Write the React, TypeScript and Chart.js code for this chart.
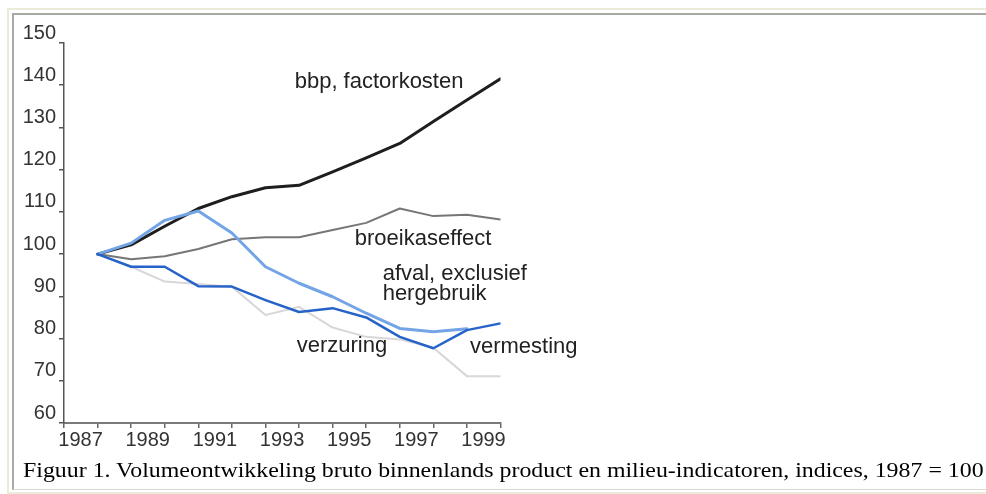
import React, { useEffect, useRef } from 'react';
import { Chart, registerables } from 'chart.js';

Chart.register(...registerables);

// ---- data ----
const years = [1987, 1988, 1989, 1990, 1991, 1992, 1993, 1994, 1995, 1996, 1997, 1998, 1999];
const bbp = [100, 102.2, 106.6, 110.8, 113.6, 115.7, 116.3, 119.5, 122.8, 126.2, 131.4, 136.5, 141.5];
const broeikaseffect = [100, 98.8, 99.5, 101.2, 103.5, 104.0, 104.0, 105.7, 107.4, 110.8, 109.0, 109.3, 108.2];
const afval = [100, 102.6, 108.0, 110.2, 105.0, 97.0, 93.1, 89.9, 86.0, 82.4, 81.6, 82.3, null];
const verzuring = [100, 97.0, 93.5, 92.9, 92.3, 85.6, 87.5, 82.6, 80.4, 79.8, 77.8, 71.1, 71.1];
const vermesting = [100, 97.0, 97.0, 92.4, 92.3, 89.1, 86.3, 87.2, 85.0, 80.4, 77.7, 82.0, 83.6];

const yTicks = [60, 70, 80, 90, 100, 110, 120, 130, 140, 150];

const annotationTexts = ['bbp, factorkosten', 'broeikaseffect', 'afval, exclusief', 'hergebruik', 'verzuring', 'vermesting'];
const annotationYears = [1992.87, 1994.66, 1995.49, 1995.49, 1992.93, 1998.09];
const annotationValues = [139.3, 102.2, 93.9, 89.1, 76.8, 76.6];

const caption = 'Figuur 1. Volumeontwikkeling bruto binnenlands product en milieu-indicatoren, indices, 1987 = 100';

const SANS = '"Liberation Sans", Arial, Helvetica, sans-serif';

const toPoints = (vals: (number | null)[]) => years.map((yr, i) => ({ x: yr, y: vals[i] }));

const labelPlugin = {
  id: 'lineLabels',
  afterDatasetsDraw(chart: any) {
    const { ctx, scales } = chart;
    ctx.save();
    ctx.font = `22px ${SANS}`;
    ctx.fillStyle = '#222222';
    ctx.textAlign = 'left';
    ctx.textBaseline = 'alphabetic';
    annotationTexts.forEach((t, i) => {
      const x = scales.x.getPixelForValue(annotationYears[i]);
      const y = scales.y.getPixelForValue(annotationValues[i]);
      ctx.fillText(t, x, y);
    });
    ctx.restore();
  },
};

function LineChart() {
  const ref = useRef<HTMLCanvasElement | null>(null);
  useEffect(() => {
    if (!ref.current) return;
    const chart = new Chart(ref.current, {
      type: 'line',
      data: {
        datasets: [
          { label: 'vermesting', data: toPoints(vermesting), borderColor: '#2563c9', borderWidth: 2.5 },
          { label: 'afval, exclusief hergebruik', data: toPoints(afval), borderColor: '#72a4e6', borderWidth: 3 },
          { label: 'bbp, factorkosten', data: toPoints(bbp), borderColor: '#1e1e1e', borderWidth: 3 },
          { label: 'broeikaseffect', data: toPoints(broeikaseffect), borderColor: '#767676', borderWidth: 2 },
          { label: 'verzuring', data: toPoints(verzuring), borderColor: '#d9d6da', borderWidth: 2 },
        ].map((d) => ({
          ...d,
          pointRadius: 0,
          pointHoverRadius: 0,
          tension: 0,
          fill: false,
          spanGaps: false,
          borderJoinStyle: 'round' as const,
          borderCapStyle: 'round' as const,
        })),
      },
      options: {
        animation: false,
        responsive: false,
        devicePixelRatio: 1,
        events: [],
        layout: { padding: { left: 0, top: 43, right: 485.5, bottom: 0 } },
        plugins: {
          legend: { display: false },
          tooltip: { enabled: false },
          title: { display: false },
        },
        scales: {
          x: {
            type: 'linear',
            min: 1986,
            max: 1999,
            afterFit: (s: any) => {
              s.height = 71;
            },
            ticks: {
              stepSize: 1,
              autoSkip: false,
              maxRotation: 0,
              padding: 0,
              labelOffset: -17,
              color: '#333333',
              font: { family: SANS, size: 20 },
              callback: (v: any) => (Number(v) % 2 === 1 ? String(v) : ''),
            },
            grid: {
              drawOnChartArea: false,
              drawTicks: true,
              tickLength: 5,
              color: '#666666',
              lineWidth: 1.5,
            },
            border: { display: true, color: '#7a7a7a', width: 2 },
          },
          y: {
            type: 'linear',
            min: 60,
            max: 150,
            afterFit: (s: any) => {
              s.width = 64;
            },
            afterBuildTicks: (s: any) => {
              s.ticks = yTicks.map((v) => ({ value: v }));
            },
            ticks: {
              padding: 3,
              labelOffset: -10,
              color: '#333333',
              font: { family: SANS, size: 20 },
              callback: (v: any) => String(v),
            },
            grid: {
              drawOnChartArea: false,
              drawTicks: true,
              tickLength: 5,
              color: '#555555',
              lineWidth: 1.5,
            },
            border: { display: true, color: '#555555', width: 1.5 },
          },
        },
      },
      plugins: [labelPlugin],
    });
    return () => chart.destroy();
  }, []);
  return (
    <canvas
      ref={ref}
      width={986}
      height={494}
      style={{ position: 'absolute', left: 0, top: 0, width: 986, height: 494 }}
    />
  );
}

export default function App() {
  return (
    <div style={{ position: 'absolute', left: 0, top: 0, width: 986, height: 494, overflow: 'hidden', background: '#ffffff' }}>
      <div
        style={{
          position: 'absolute',
          left: 7,
          top: 8,
          width: 1000,
          height: 482,
          borderTop: '2px solid #ecead9',
          borderLeft: '2px solid #ecead9',
          borderBottom: '2px solid #ecead9',
        }}
      />
      <div
        style={{
          position: 'absolute',
          left: 12,
          top: 13,
          width: 1000,
          height: 474,
          borderTop: '2px solid #a9a9a3',
          borderLeft: '2px solid #a9a9a3',
          borderBottom: '1px solid #dcdcd6',
        }}
      />
      <LineChart />
      <div
        style={{
          position: 'absolute',
          left: 23,
          top: 458,
          whiteSpace: 'nowrap',
          fontFamily: '"Liberation Serif", "Times New Roman", serif',
          fontSize: 22,
          lineHeight: '24px',
          color: '#000000',
          transform: 'scaleX(1.085)',
          transformOrigin: 'left center',
        }}
      >
        {caption}
      </div>
    </div>
  );
}
